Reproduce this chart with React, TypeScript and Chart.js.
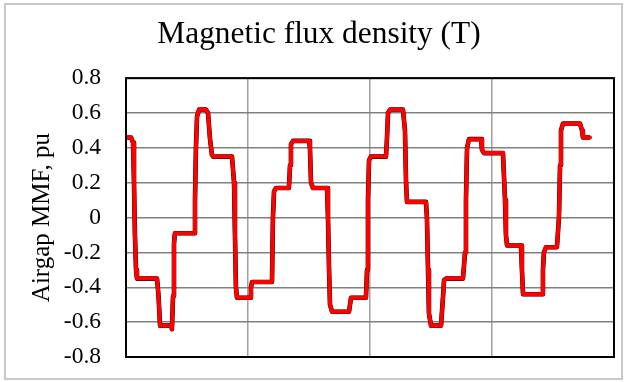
import React, { useEffect, useRef } from "react";
import { Chart, registerables } from "chart.js";

Chart.register(...registerables);

const TITLE = "Magnetic flux density (T)";
const Y_TITLE = "Airgap MMF, pu";

// electrical angle (deg) of each sample
const angleDeg: number[] = [
  0, 3.7, 5.2, 5.9, 6.6, 7.4, 8.1, 22.9, 24.0, 25.1, 33.2, 33.9, 34.7, 35.4, 36.1,
  50.2, 50.9, 51.6, 52.4, 53.9, 59.0, 60.5, 62.0, 63.4, 64.2, 78.2, 79.7, 80.4, 81.1, 81.9,
  91.5, 92.2, 93.0, 107.7, 108.4, 109.2, 110.7, 120.2, 121.0, 121.7, 123.2, 135.0, 135.7, 136.5, 137.9,
  148.3, 149.0, 149.8, 150.5, 152.0, 164.5, 166.0, 177.0, 177.8, 178.5, 179.3, 180.7,
  191.8, 192.5, 193.3, 194.8, 204.3, 205.8, 206.6, 207.3, 221.3, 222.0, 222.8, 223.5, 225.0,
  232.4, 233.9, 234.6, 236.1, 248.6, 250.1, 250.8, 251.6, 253.0, 261.9, 262.6, 264.1,
  278.1, 279.6, 280.3, 281.1, 291.4, 292.1, 292.9, 306.9, 307.6, 308.3, 309.8,
  317.9, 319.4, 320.2, 320.9, 322.4, 334.9, 336.4, 337.1, 342.3,
];

// airgap MMF (pu), black trace
const mmfBlack: number[] = [
  0.46, 0.46, 0.43, 0.2, -0.1, -0.3, -0.35, -0.35, -0.45, -0.62, -0.62, -0.64, -0.45, -0.15, -0.09,
  -0.09, 0.1, 0.4, 0.58, 0.62, 0.62, 0.6, 0.45, 0.36, 0.35, 0.35, 0.2, -0.1, -0.4, -0.46,
  -0.46, -0.4, -0.37, -0.37, 0.0, 0.15, 0.17, 0.17, 0.3, 0.42, 0.44, 0.44, 0.4, 0.2, 0.17,
  0.17, 0.0, -0.3, -0.5, -0.54, -0.54, -0.46, -0.46, -0.3, 0.1, 0.33, 0.35,
  0.35, 0.45, 0.6, 0.62, 0.62, 0.5, 0.2, 0.09, 0.09, 0.0, -0.3, -0.55, -0.62,
  -0.62, -0.45, -0.36, -0.35, -0.35, -0.2, 0.1, 0.4, 0.45, 0.45, 0.39, 0.37,
  0.37, 0.1, -0.1, -0.16, -0.16, -0.3, -0.44, -0.44, -0.3, -0.2, -0.17,
  -0.17, 0.0, 0.3, 0.5, 0.54, 0.54, 0.5, 0.46, 0.46,
];

// airgap MMF (pu), red trace
const mmfRed: number[] = [
  0.46, 0.46, 0.43, 0.2, -0.1, -0.3, -0.35, -0.35, -0.45, -0.62, -0.62, -0.64, -0.45, -0.15, -0.09,
  -0.09, 0.1, 0.4, 0.58, 0.62, 0.62, 0.6, 0.45, 0.36, 0.35, 0.35, 0.2, -0.1, -0.4, -0.46,
  -0.46, -0.4, -0.37, -0.37, 0.0, 0.15, 0.17, 0.17, 0.3, 0.42, 0.44, 0.44, 0.4, 0.2, 0.17,
  0.17, 0.0, -0.3, -0.5, -0.54, -0.54, -0.46, -0.46, -0.3, 0.1, 0.33, 0.35,
  0.35, 0.45, 0.6, 0.62, 0.62, 0.5, 0.2, 0.09, 0.09, 0.0, -0.3, -0.55, -0.62,
  -0.62, -0.45, -0.36, -0.35, -0.35, -0.2, 0.1, 0.4, 0.45, 0.45, 0.39, 0.37,
  0.37, 0.1, -0.1, -0.16, -0.16, -0.3, -0.44, -0.44, -0.3, -0.2, -0.17,
  -0.17, 0.0, 0.3, 0.5, 0.54, 0.54, 0.5, 0.46, 0.46,
];

const yTicks: number[] = [-0.8, -0.6, -0.4, -0.2, 0, 0.2, 0.4, 0.6, 0.8];
const xGrid: number[] = [0, 90, 180, 270, 360];

const FONT = "'Liberation Serif', 'Times New Roman', serif";

const framePlugin = {
  id: "frame",
  beforeDraw(chart: any) {
    const { ctx } = chart;
    ctx.save();
    ctx.fillStyle = "#ffffff";
    ctx.fillRect(0, 0, chart.width, chart.height);
    ctx.strokeStyle = "#c8c8c8";
    ctx.lineWidth = 2;
    ctx.strokeRect(5, 4, 617, 375);
    ctx.restore();
  },
  afterDatasetsDraw(chart: any) {
    const { ctx, chartArea } = chart;
    ctx.save();
    ctx.strokeStyle = "#000000";
    ctx.lineWidth = 2;
    ctx.strokeRect(
      chartArea.left,
      chartArea.top,
      chartArea.right - chartArea.left,
      chartArea.bottom - chartArea.top
    );
    ctx.restore();
  },
};

export default function App() {
  const ref = useRef<HTMLCanvasElement | null>(null);

  useEffect(() => {
    if (!ref.current) return;
    const blackPts = angleDeg.map((x, i) => ({ x, y: mmfBlack[i] }));
    const redPts = angleDeg.map((x, i) => ({ x, y: mmfRed[i] }));
    const chart = new Chart(ref.current, {
      type: "line",
      data: {
        datasets: [
          {
            data: redPts,
            borderColor: "#ff0000",
            borderWidth: 4,
            pointRadius: 0,
            tension: 0,
            borderJoinStyle: "round",
            borderCapStyle: "round",
          } as any,
          {
            data: blackPts,
            borderColor: "#000000",
            borderWidth: 4.6,
            pointRadius: 0,
            tension: 0,
            borderJoinStyle: "round",
          } as any,
        ],
      },
      options: {
        animation: false,
        responsive: false,
        devicePixelRatio: 1,
        layout: { padding: { left: 24, right: 13, top: 0, bottom: 0 } },
        plugins: {
          legend: { display: false },
          tooltip: { enabled: false },
          title: {
            display: true,
            text: TITLE,
            color: "#000000",
            font: { family: FONT, size: 31.4, weight: "normal", lineHeight: 1.2 },
            padding: { top: 16, bottom: 24.5 },
          },
        },
        scales: {
          x: {
            type: "linear",
            min: xGrid[0],
            max: xGrid[xGrid.length - 1],
            afterBuildTicks: (s: any) => {
              s.ticks = xGrid.map((v) => ({ value: v }));
            },
            ticks: { display: false },
            grid: { color: "#a0a0a0", lineWidth: 1.5, drawTicks: false },
            border: { display: false },
            afterFit: (s: any) => {
              s.height = 25;
            },
          },
          y: {
            type: "linear",
            min: yTicks[0],
            max: yTicks[yTicks.length - 1],
            afterBuildTicks: (s: any) => {
              s.ticks = yTicks.map((v) => ({ value: v }));
            },
            ticks: {
              color: "#000000",
              padding: 25,
              font: { family: FONT, size: 23.5 },
              callback: (v: any) => String(Math.round(Number(v) * 10) / 10),
            },
            grid: { color: "#808080", lineWidth: 1.5, drawTicks: false },
            border: { display: false },
            title: {
              display: true,
              text: Y_TITLE,
              color: "#000000",
              font: { family: FONT, size: 25, lineHeight: 1.2 },
              padding: { top: 3, bottom: 0 },
            },
            afterFit: (s: any) => {
              s.width = 102;
              s.paddingTop = 0;
              s.paddingBottom = 0;
            },
          },
        },
      },
      plugins: [framePlugin],
    });
    return () => chart.destroy();
  }, []);

  return (
    <div style={{ position: "fixed", left: 0, top: 0, width: 627, height: 382, background: "#fff" }}>
      <canvas ref={ref} width={627} height={382} style={{ width: 627, height: 382, display: "block" }} />
    </div>
  );
}
